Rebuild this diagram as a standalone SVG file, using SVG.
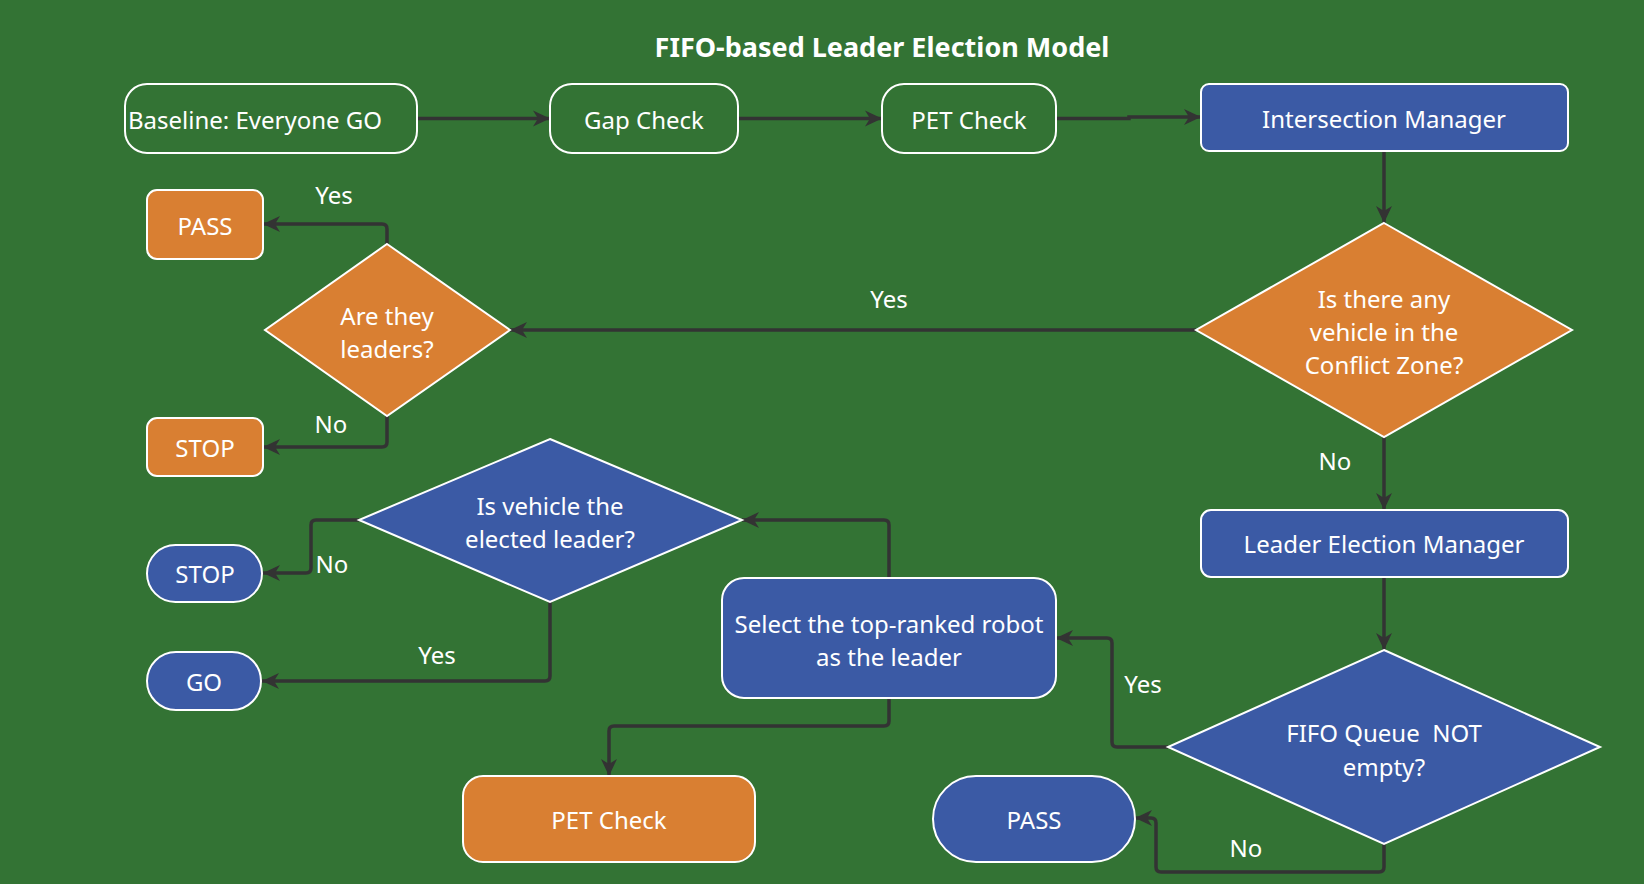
<svg xmlns="http://www.w3.org/2000/svg" width="1644" height="884" viewBox="0 0 1644 884">
<defs>
<style>
.t{font-family:"Noto Sans","Open Sans","Liberation Sans",sans-serif;font-size:24px;fill:#ffffff;text-anchor:middle;dominant-baseline:central}
.title{font-size:27px;font-weight:bold}
.out{fill:none;stroke:#ffffff;stroke-width:2}
.or{fill:#d97f32;stroke:#ffffff;stroke-width:2}
.bl{fill:#3b5aa5;stroke:#ffffff;stroke-width:2}
.c{fill:none;stroke:#333333;stroke-width:3.5;marker-end:url(#ah)}
</style>
<marker id="ah" markerUnits="userSpaceOnUse" markerWidth="18" markerHeight="18" viewBox="0 0 18 18" refX="17" refY="9" orient="auto">
<path d="M0,1 L17,9 L0,17 L5,9 z" fill="#333333"/>
</marker>
</defs>
<rect x="0" y="0" width="1644" height="884" fill="#337334"/>
<text class="t title" x="882" y="46">FIFO-based Leader Election Model</text>

<g id="connectors">
<path class="c" d="M417,118.5 H550"/>
<path class="c" d="M738,118.5 H882"/>
<path class="c" d="M1056,118.5 H1129 V117 H1201"/>
<path class="c" d="M1384,151 V223"/>
<path class="c" d="M1196,330 H510"/>
<path class="c" d="M387,244 V229 Q387,224 382,224 H263"/>
<path class="c" d="M387,416 V442 Q387,447 382,447 H263"/>
<path class="c" d="M1384,437 V510"/>
<path class="c" d="M1384,577 V650"/>
<path class="c" d="M1168,747 H1117 Q1112,747 1112,742 V643 Q1112,638 1107,638 H1056"/>
<path class="c" d="M1384,844 V867 Q1384,872 1379,872 H1161 Q1156,872 1156,867 V823 Q1156,818 1151,818 H1135"/>
<path class="c" d="M889,578 V525 Q889,520 884,520 H742"/>
<path class="c" d="M889,698 V721 Q889,726 884,726 H614 Q609,726 609,731 V776"/>
<path class="c" d="M359,520 H316 Q311,520 311,525 V568 Q311,573 306,573 H263"/>
<path class="c" d="M550,602 V676 Q550,681 545,681 H262"/>
<text class="t" x="334" y="194">Yes</text>
<text class="t" x="331" y="423">No</text>
<text class="t" x="889" y="298">Yes</text>
<text class="t" x="1335" y="460">No</text>
<text class="t" x="332" y="563">No</text>
<text class="t" x="437" y="654">Yes</text>
<text class="t" x="1143" y="683">Yes</text>
<text class="t" x="1246" y="847">No</text>
</g>

<g id="baseline">
<rect class="out" x="125" y="84" width="292" height="69" rx="22"/>
<text class="t" x="128" y="119" style="text-anchor:start">Baseline: Everyone GO</text>
</g>
<g id="gap-check">
<rect class="out" x="550" y="84" width="188" height="69" rx="22"/>
<text class="t" x="644" y="119">Gap Check</text>
</g>
<g id="pet-check-top">
<rect class="out" x="882" y="84" width="174" height="69" rx="22"/>
<text class="t" x="969" y="119">PET Check</text>
</g>
<g id="intersection-manager">
<rect class="bl" x="1201" y="84" width="367" height="67" rx="8"/>
<text class="t" x="1384" y="118">Intersection Manager</text>
</g>
<g id="conflict-zone">
<polygon class="or" points="1384,223 1572,330 1384,437 1196,330"/>
<text class="t" x="1384" y="298">Is there any</text>
<text class="t" x="1384" y="331">vehicle in the</text>
<text class="t" x="1384" y="364">Conflict Zone?</text>
</g>
<g id="are-leaders">
<polygon class="or" points="387,244 510,330 387,416 265,330"/>
<text class="t" x="387" y="315">Are they</text>
<text class="t" x="387" y="348">leaders?</text>
</g>
<g id="pass-orange">
<rect class="or" x="147" y="190" width="116" height="69" rx="10"/>
<text class="t" x="205" y="225">PASS</text>
</g>
<g id="stop-orange">
<rect class="or" x="147" y="418" width="116" height="58" rx="10"/>
<text class="t" x="205" y="447">STOP</text>
</g>
<g id="elected-leader">
<polygon class="bl" points="550,439 742,520 550,602 359,520"/>
<text class="t" x="550" y="505">Is vehicle the</text>
<text class="t" x="550" y="538">elected leader?</text>
</g>
<g id="stop-blue">
<rect class="bl" x="147" y="545" width="115" height="57" rx="28.5"/>
<text class="t" x="205" y="573">STOP</text>
</g>
<g id="go-blue">
<rect class="bl" x="147" y="652" width="114" height="58" rx="29"/>
<text class="t" x="204" y="681">GO</text>
</g>
<g id="leader-election-manager">
<rect class="bl" x="1201" y="510" width="367" height="67" rx="10"/>
<text class="t" x="1384" y="543">Leader Election Manager</text>
</g>
<g id="fifo-queue">
<polygon class="bl" points="1384,650 1600,747 1384,844 1168,747"/>
<text class="t" x="1384" y="732" xml:space="preserve">FIFO Queue  NOT</text>
<text class="t" x="1384" y="766">empty?</text>
</g>
<g id="select-leader">
<rect class="bl" x="722" y="578" width="334" height="120" rx="22"/>
<text class="t" x="889" y="623">Select the top-ranked robot</text>
<text class="t" x="889" y="656">as the leader</text>
</g>
<g id="pet-check-bottom">
<rect class="or" x="463" y="776" width="292" height="86" rx="20"/>
<text class="t" x="609" y="819">PET Check</text>
</g>
<g id="pass-blue">
<rect class="bl" x="933" y="776" width="202" height="86" rx="43"/>
<text class="t" x="1034" y="819">PASS</text>
</g>
</svg>
